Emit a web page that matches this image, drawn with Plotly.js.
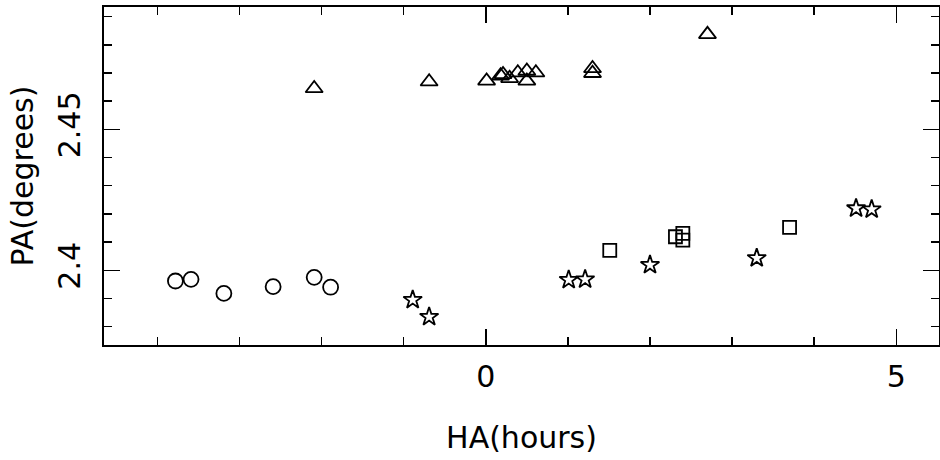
<!DOCTYPE html>
<html>
<head>
<meta charset="utf-8">
<script src="https://cdn.plot.ly/plotly-3.0.1.min.js"></script>
<style>html,body{margin:0;padding:0;background:#fff;}#chart{width:940px;height:460px;}</style>
</head>
<body>
<div id="chart"></div>
<script>
// Hour angle (hours) and position angle (degrees)
const circleHA = [-3.78, -3.59, -3.19, -2.59, -2.09, -1.89];
const circlePA = [2.3962, 2.3968, 2.3918, 2.3942, 2.3975, 2.3940];

const triangleHA = [-2.09, -0.69, 0.01, 0.18, 0.21, 0.29, 0.39, 0.50, 0.61, 0.50, 1.30, 1.30, 2.70];
const trianglePA = [2.4645, 2.4669, 2.4672, 2.4690, 2.4695, 2.4681, 2.4701, 2.4707, 2.4701, 2.4672, 2.4716, 2.4699, 2.4837];

const starHA = [-0.89, -0.69, 1.01, 1.21, 2.00, 3.30, 4.51, 4.70];
const starPA = [2.3895, 2.3835, 2.3966, 2.3968, 2.4019, 2.4043, 2.4220, 2.4216];

const squareHA = [1.51, 2.31, 2.40, 2.40, 3.70];
const squarePA = [2.4071, 2.4119, 2.4131, 2.4107, 2.4152];

const xTickVals = [0, 5];
const xTickText = ['0', '5'];
const yTickVals = [2.40, 2.45];
const yTickText = ['2.4', '2.45'];

const FONT = 'DejaVu Sans, Liberation Sans, sans-serif';
function series(x, y, symbol, size) {
  return {
    x: x, y: y, type: 'scatter', mode: 'markers', showlegend: false,
    marker: {symbol: symbol, size: size, color: '#000', line: {color: '#000', width: 1.8}},
    hoverinfo: 'x+y'
  };
}
const data = [
  series(circleHA, circlePA, 'circle-open', 15),
  series(triangleHA, trianglePA, 'triangle-up-open', 15),
  series(starHA, starPA, 'star-open', 14),
  series(squareHA, squarePA, 'square-open', 13)
];
const axisCommon = {
  showline: true, linecolor: '#000', linewidth: 2, mirror: 'allticks',
  ticks: 'inside', ticklen: 16, tickwidth: 1.5, tickcolor: '#000',
  showgrid: false, zeroline: false,
  tickfont: {family: FONT, size: 30, color: '#000'}
};
const layout = {
  width: 940, height: 460,
  margin: {l: 104, r: 1, t: 7, b: 115},
  paper_bgcolor: '#fff', plot_bgcolor: '#fff',
  font: {family: FONT, color: '#000'},
  xaxis: Object.assign({}, axisCommon, {
    range: [-4.65, 5.52],
    tickmode: 'array', tickvals: xTickVals, ticktext: xTickText,
    minor: {dtick: 1, tick0: 0, ticks: 'inside', ticklen: 8, tickwidth: 1.5, tickcolor: '#000', showgrid: false},
    ticklabelstandoff: 4,
    title: {text: 'HA(hours)', font: {family: FONT, size: 30, color: '#000'}, standoff: 34}
  }),
  yaxis: Object.assign({}, axisCommon, {
    range: [2.3735, 2.4934],
    tickmode: 'array', tickvals: yTickVals, ticktext: yTickText,
    tickangle: -90,
    minor: {dtick: 0.01, tick0: 2.4, ticks: 'inside', ticklen: 8, tickwidth: 1.5, tickcolor: '#000', showgrid: false},
    ticklabelstandoff: 10,
    title: {text: 'PA(degrees)', font: {family: FONT, size: 30, color: '#000'}, standoff: 10}
  })
};
Plotly.newPlot('chart', data, layout, {staticPlot: true, displayModeBar: false});
</script>
</body>
</html>
